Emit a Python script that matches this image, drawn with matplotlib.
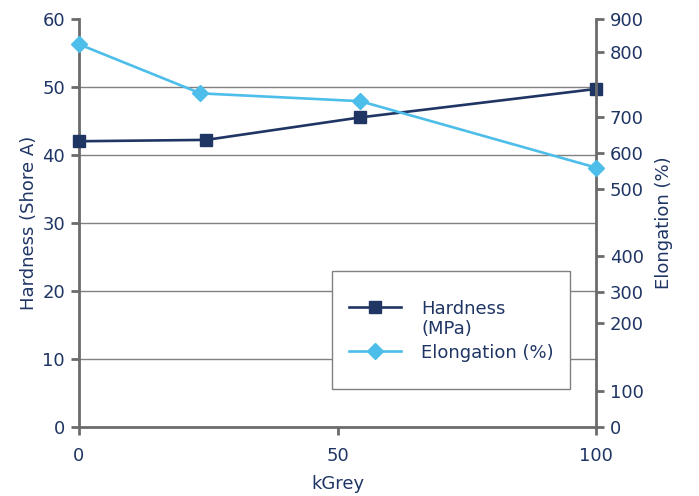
import numpy as np
import matplotlib
matplotlib.use('Agg')
import matplotlib.pyplot as plt
from matplotlib.patches import Rectangle
from matplotlib.legend_handler import HandlerLine2D

# data
dose_hardness = [0, 24.6, 54.3, 100]
hardness = [42.0, 42.2, 45.5, 49.7]
dose_elong = [0, 23.5, 54.4, 100]
elongation = [824, 737, 725, 560]

# the right axis of the original is not linear: tick values and where they
# sit, in units of the left (hardness) axis
elong_ticks = [0, 100, 200, 300, 400, 500, 600, 700, 800, 900]
elong_tick_pos = [0, 5.3, 15.2, 19.8, 25.1, 35.0, 40.2, 45.5, 55.1, 60.0]

NAVY = '#1f3564'
LIGHT = '#4dbde9'
GREY = '#6b6b6b'

plt.rcParams['font.family'] = ['DejaVu Sans']
plt.rcParams['font.size'] = 13


class FirstLineHandler(HandlerLine2D):
    """Legend handle lined up with the first line of a two-line label"""
    def create_artists(self, legend, orig_handle, xdescent, ydescent,
                       width, height, fontsize, trans):
        arts = super().create_artists(legend, orig_handle, xdescent, ydescent,
                                      width, height, fontsize, trans)
        for a in arts:
            a.set_ydata(np.asarray(a.get_ydata()) + 0.72 * fontsize)
        return arts


fig = plt.figure(figsize=(6.99, 4.96), dpi=100)
ax = fig.add_axes([79 / 699, 1 - 426.5 / 496, (596 - 79) / 699, (426.5 - 19) / 496])
ax2 = ax.twinx()

ln1, = ax.plot(dose_hardness, hardness, color=NAVY, lw=1.9, marker='s', ms=8,
               label='Hardness\n(MPa)', clip_on=False, zorder=3)
ln2, = ax2.plot(dose_elong, elongation, color=LIGHT, lw=1.9, marker='D', ms=8,
                label='Elongation (%)', clip_on=False, zorder=3)

ax.set_xlim(0, 100)
ax.set_ylim(0, 60)
ax.set_xticks([0, 50, 100])
ax.set_yticks(range(0, 61, 10))

fwd = lambda y: np.interp(y, elong_ticks, elong_tick_pos)
inv = lambda h: np.interp(h, elong_tick_pos, elong_ticks)
ax2.set_yscale('function', functions=(fwd, inv))
ax2.set_ylim(0, 900)
ax2.set_yticks(elong_ticks)
ax2.set_yticklabels([str(v) for v in elong_ticks])
ax2.minorticks_off()

# grid lines
for y in range(10, 60, 10):
    ax.axhline(y, color='#808080', lw=1, zorder=1)

for a in (ax, ax2):
    a.spines['top'].set_visible(False)
    for s in ('left', 'right', 'bottom'):
        a.spines[s].set_color(GREY)
        a.spines[s].set_linewidth(2)
    a.tick_params(colors=GREY, labelcolor=NAVY, width=2, length=6, labelsize=13)
ax.spines['right'].set_visible(False)
ax2.spines['left'].set_visible(False)
ax2.spines['bottom'].set_visible(False)
ax.tick_params(axis='x', pad=9)
ax.tick_params(axis='y', pad=4)
ax2.tick_params(axis='y', pad=4)

ax.set_xlabel('kGrey', color=NAVY, fontsize=13, labelpad=7)
ax.set_ylabel('Hardness (Shore A)', color=NAVY, fontsize=13, labelpad=3)
ax2.set_ylabel('Elongation (%)', color=NAVY, fontsize=13, labelpad=8)

# legend box
fig.patches.append(Rectangle((332 / 699, 1 - 389 / 496), (570 - 332) / 699, (389 - 271) / 496,
                             transform=fig.transFigure, fill=True, facecolor='white',
                             edgecolor='#808080', lw=1, zorder=5))
leg = fig.legend([ln1, ln2], ['Hardness\n(MPa)', 'Elongation (%)'], loc='upper left',
                 bbox_to_anchor=(340 / 699, 1 - 291 / 496), frameon=False,
                 handlelength=2.9, handletextpad=1.1, labelspacing=0.3,
                 borderpad=0, fontsize=13, handler_map={ln1: FirstLineHandler()})
for t in leg.get_texts():
    t.set_color(NAVY)
    t.set_linespacing(1.15)
leg.set_zorder(6)

fig.savefig('out.png', dpi=100)
